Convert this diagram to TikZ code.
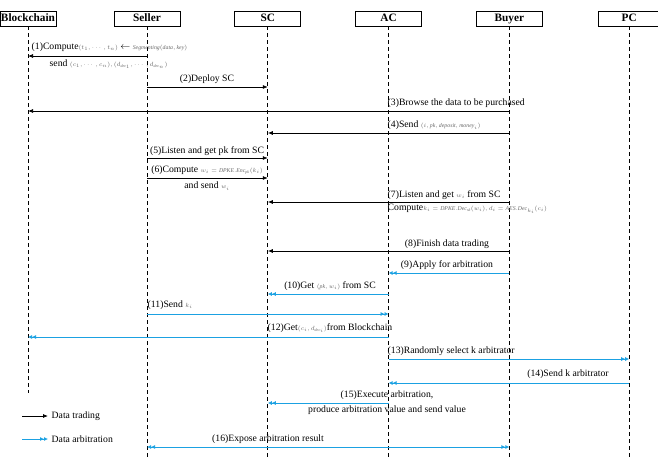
\documentclass[tikz,border=0pt]{standalone}
\usepackage{fontspec}
\setmainfont{Liberation Serif}
\usepackage{amsmath}
\usetikzlibrary{positioning,calc}
\usetikzlibrary{arrows.meta}
\definecolor{arbblue}{RGB}{27,161,226}
\newcommand{\fm}[1]{{\color{black!60}\fontsize{5.8}{6}\selectfont$#1$}}
\tikzset{
	actor/.style={draw,line width=0.8pt,minimum height=15pt,minimum width=66pt,inner sep=0pt,text height=8pt,text depth=2.5pt,font=\fontsize{11.3}{12}\selectfont\bfseries},
	lifeline/.style={draw,line width=0.8pt,dash pattern=on 3.5pt off 3.5pt},
	trade/.style={draw,line width=0.75pt,-{Latex[length=5pt,width=4pt]}},
	arb/.style={draw=arbblue,line width=0.75pt,-{Latex[length=4pt,width=4pt]Latex[length=4pt,width=4pt]}},
	arbboth/.style={draw=arbblue,line width=0.75pt,{Latex[length=4pt,width=4pt]Latex[length=4pt,width=4pt]}-{Latex[length=4pt,width=4pt]Latex[length=4pt,width=4pt]}},
	msg/.style={font=\fontsize{9.7}{10}\selectfont,inner sep=0.5pt},
}

\begin{document}
\begin{tikzpicture}[x=1pt,y=-1pt]
	\useasboundingbox (0,0) rectangle (658,466);
	
	% Participants
	\node[actor,minimum width=56pt] (bc) at (28,18.5) {Blockchain};
	\node[actor] (seller) at (147,18.5) {Seller};
	\node[actor,right=54pt of seller] (sc) {SC};
	\node[actor,right=54pt of sc] (ac) {AC};
	\node[actor,right=54pt of ac] (buyer) {Buyer};
	\node[actor,minimum width=62pt,right=55pt of buyer] (pc) {PC};
	
	% Lifelines
	\coordinate (bc-end) at (bc.south |- 0,393);
	\coordinate (seller-end) at (seller.south |- 0,458);
	\coordinate (sc-end) at (sc.south |- 0,458);
	\coordinate (ac-end) at (ac.south |- 0,458);
	\coordinate (buyer-end) at (buyer.south |- 0,458);
	\coordinate (pc-end) at (pc.south |- 0,458);
	\draw[lifeline] (bc.south) -- (bc-end);
	\draw[lifeline] (seller.south) -- (seller-end);
	\draw[lifeline] (sc.south) -- (sc-end);
	\draw[lifeline] (ac.south) -- (ac-end);
	\draw[lifeline] (buyer.south) -- (buyer-end);
	\draw[lifeline] (pc.south) -- (pc-end);
	
	% Data trading
	\draw[trade] (seller |- 0,56) -- (bc |- 0,56);
	\node[msg,anchor=west] (l1a) at (31,47) {(1)Compute\fm{(t_1,\cdots,t_n)} $\leftarrow$ \fm{\mathit{Segmenting}(\mathit{data},\mathit{key})}};
	\node[msg,anchor=west] (l1b) at (49,64) {send \fm{(c_1,\cdots,c_n),(d_{\mathit{dec}_1},\cdots,d_{\mathit{dec}_n})}};
	
	\draw[trade] (seller |- 0,87) -- (sc |- 0,87);
	\node[msg] (l2) at (207,79) {(2)Deploy SC};
	
	\draw[trade] (buyer |- 0,111) -- (bc |- 0,111);
	\node[msg,anchor=west] (l3) at (387,103) {(3)Browse the data to be purchased};
	
	\draw[trade] (buyer |- 0,133) -- (sc |- 0,133);
	\node[msg,anchor=west] (l4) at (387,125) {(4)Send \fm{(i,\mathit{pk},\mathit{deposit},\mathit{money}_i)}};
	
	\draw[trade] (seller |- 0,158) -- (sc |- 0,158);
	\node[msg] (l5) at (207,151) {(5)Listen and get pk from SC};
	
	\draw[trade] (seller |- 0,178) -- (sc |- 0,178);
	\node[msg] (l6a) at (207,170) {(6)Compute \fm{w_i=\mathit{DPKE.Enc}_{\mathit{pk}}(k_i)}};
	\node[msg] (l6b) at (207,186) {and send \fm{w_i}};
	
	\draw[trade] (buyer |- 0,202) -- (sc |- 0,202);
	\node[msg,anchor=west] (l7a) at (387,195) {(7)Listen and get \fm{w_i} from SC};
	\node[msg,anchor=west] (l7b) at (387,209) {Compute\fm{k_i=\mathit{DPKE.Dec}_{\mathit{sk}}(w_i),d_i= \mathit{AES.Dec}_{k_i}(c_i)}};
	
	\draw[trade] (buyer |- 0,251) -- (sc |- 0,251);
	\node[msg] (l8) at (447,244) {(8)Finish data trading};
	
	% Data arbitration
	\draw[arb] (buyer |- 0,273) -- (ac |- 0,273);
	\node[msg] (l9) at (447,265) {(9)Apply for arbitration};
	
	\draw[arb] (ac |- 0,294) -- (sc |- 0,294);
	\node[msg] (l10) at (330,286) {(10)Get \fm{(\mathit{pk},w_i)} from SC};
	
	\draw[arb] (seller |- 0,314) -- (ac |- 0,314);
	\node[msg,anchor=west] (l11) at (147,305) {(11)Send \fm{k_i}};
	
	\draw[arb] (ac |- 0,337) -- (bc |- 0,337);
	\node[msg,anchor=west] (l12) at (267,328) {(12)Get\fm{(c_i,d_{\mathit{dec}_i})}from Blockchain};
	
	\draw[arb] (ac |- 0,359) -- (pc |- 0,359);
	\node[msg,anchor=west] (l13) at (387,351) {(13)Randomly select k arbitrator};
	
	\draw[arb] (pc |- 0,383) -- (ac |- 0,383);
	\node[msg] (l14) at (568,374) {(14)Send k arbitrator};
	
	\draw[arb] (ac |- 0,403) -- (sc |- 0,403);
	\node[msg] (l15a) at (387,395) {(15)Execute arbitration,};
	\node[msg] (l15b) at (387,410) {produce arbitration value and send value};
	
	\draw[arbboth] (seller |- 0,447) -- (buyer |- 0,447);
	\node[msg] (l16) at (268,439) {(16)Expose arbitration result};
	
	% Legend
	\coordinate (lg1) at (22,416);
	\coordinate (lg1-end) at (48,416);
	\draw[trade] (lg1) -- (lg1-end);
	\node[msg,anchor=west] (lgt) at (51,416) {Data trading};
	\coordinate (lg2) at (22,439);
	\coordinate (lg2-end) at (48,439);
	\draw[arb] (lg2) -- (lg2-end);
	\node[msg,anchor=west] (lga) at (51,439) {Data arbitration};
\end{tikzpicture}
\end{document}
